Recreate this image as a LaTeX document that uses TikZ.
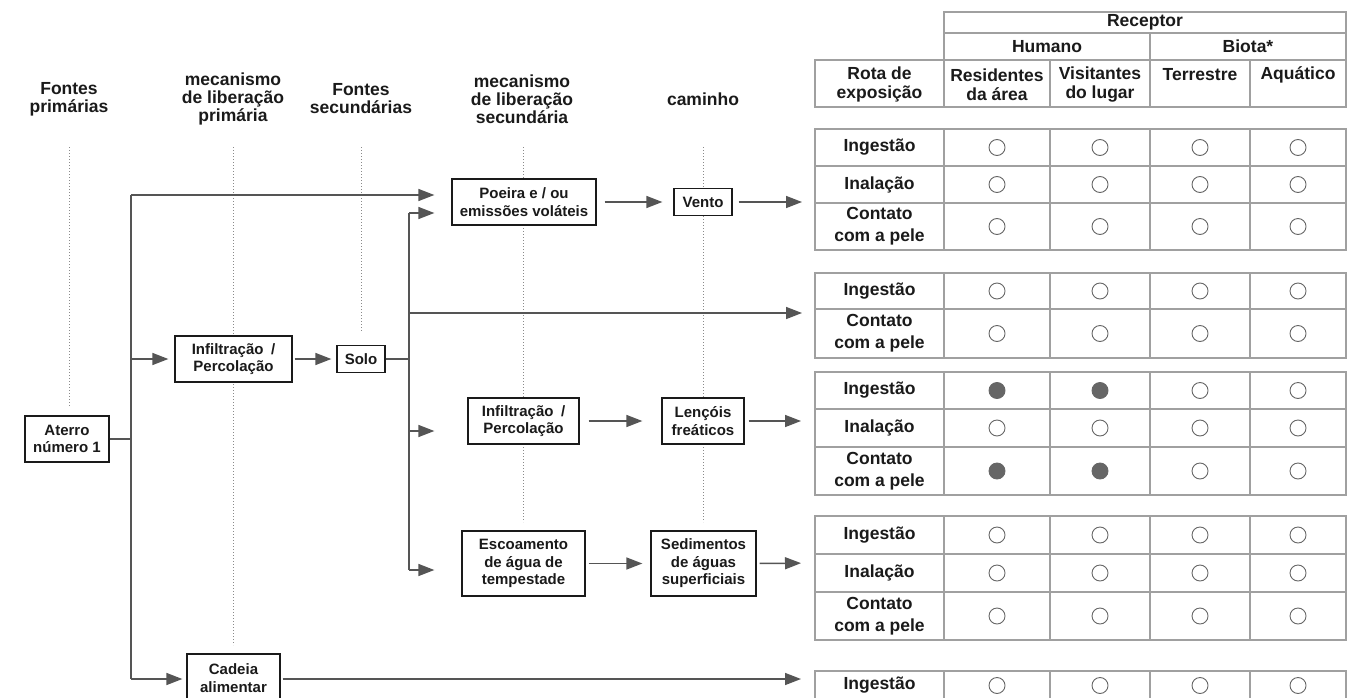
\documentclass[tikz,border=0pt]{standalone}
\usepackage{fontspec}
\setmainfont{Liberation Sans}
\usetikzlibrary{arrows.meta}

\definecolor{ink}{HTML}{1A1A1A}
\definecolor{arrowgray}{HTML}{555555}
\definecolor{gridgray}{HTML}{A0A0A0}
\definecolor{dotgray}{HTML}{8A8A8A}
\definecolor{markgray}{HTML}{666666}

\tikzset{
  flowbox/.style={draw=ink, line width=1.3pt, fill=white, align=center,
    inner sep=0pt, text=ink, font=\bfseries\fontsize{15}{17.5}\selectfont},
  conn/.style={draw=arrowgray, line width=1.5pt},
  arr/.style={conn, -{Triangle[length=16pt,width=12pt]}},
  guideline/.style={draw=dotgray, line width=0.9pt, dash pattern=on 1pt off 2pt},
  colhead/.style={align=center, text=ink, font=\bfseries\fontsize{17.5}{18}\selectfont},
  celltext/.style={align=center, text=ink, font=\bfseries\fontsize{17.5}{22}\selectfont},
  tableline/.style={draw=gridgray, line width=1.4pt},
  opencirc/.style={circle, draw=markgray, line width=0.9pt, minimum size=16pt, inner sep=0pt},
  fullcirc/.style={opencirc, fill=markgray},
}

% one row of the exposure table: name, top, bottom, label, four marker styles
\newcommand\exposurerow[8]{%
  \draw[tableline] (815,#2) rectangle (1346,#3);
  \foreach \xx in {944,1050,1150,1250} \draw[tableline] (\xx,#2) -- (\xx,#3);
  \node[celltext] (#1-l) at (879.5,{(#2+#3)/2}) {#4};
  \node[#5] (#1-a) at (997,{(#2+#3)/2}) {};
  \node[#6] (#1-b) at (1100,{(#2+#3)/2}) {};
  \node[#7] (#1-c) at (1200,{(#2+#3)/2}) {};
  \node[#8] (#1-d) at (1298,{(#2+#3)/2}) {};
}

\begin{document}
\begin{tikzpicture}[x=1pt,y=-1pt]
\useasboundingbox (0,0) rectangle (1359,698);
\clip (0,0) rectangle (1359,698);
\fill[white] (0,0) rectangle (1359,698);

% column headings of the flow part
\node[colhead] (hFP)  at (69,99)  {Fontes\\primárias};
\node[colhead] (hMP)  at (233,99) {mecanismo\\de liberação\\primária};
\node[colhead] (hFS)  at (361,99) {Fontes\\secundárias};
\node[colhead] (hMS)  at (522,99) {mecanismo\\de liberação\\secundária};
\node[colhead] (hCam) at (703,99) {caminho};

% dotted column guides
\draw[guideline] (69,147) -- (69,407);
\draw[guideline] (233,147) -- (233,645);
\draw[guideline] (361,147) -- (361,331);
\draw[guideline] (523,147) -- (523,522);
\draw[guideline] (703,147) -- (703,522);

% flow boxes
\node[flowbox, minimum width=84pt,  minimum height=46pt] (aterro)  at (67,439)    {Aterro\\número 1};
\node[flowbox, minimum width=117pt, minimum height=46pt] (infil1)  at (233.5,359) {Infiltração\enspace/\\Percolação};
\node[flowbox, minimum width=48pt,  minimum height=27pt] (solo)    at (361,359)   {Solo};
\node[flowbox, minimum width=144pt, minimum height=46pt] (poeira)  at (524,202)   {Poeira e / ou\\emissões voláteis};
\node[flowbox, minimum width=58pt,  minimum height=27pt] (vento)   at (703,202)   {Vento};
\node[flowbox, minimum width=111pt, minimum height=46pt] (infil2)  at (523.5,421) {Infiltração\enspace/\\Percolação};
\node[flowbox, minimum width=82pt,  minimum height=46pt] (lencois) at (703,421)   {Lençóis\\freáticos};
\node[flowbox, minimum width=123pt, minimum height=65pt] (escoa)   at (523.5,563.5) {Escoamento\\de água de\\tempestade};
\node[flowbox, minimum width=105pt, minimum height=65pt] (sedim)   at (703.5,563.5) {Sedimentos\\de águas\\superficiais};
\node[flowbox, minimum width=93pt,  minimum height=48pt] (cadeia)  at (233.5,678) {Cadeia\\alimentar};

% entry points of the exposure groups
\coordinate (g1) at (815,202);
\coordinate (g2) at (815,313);
\coordinate (g3) at (815,421);
\coordinate (g4) at (815,563);
\coordinate (g5) at (815,679);

% primary trunk
\coordinate (tTop) at (131,195);
\coordinate (tBot) at (131,679);
\draw[conn] (aterro.east) -- (aterro.east -| tTop);
\draw[conn] (tTop) -- (tBot);
\draw[arr, shorten >=17pt] (tTop) -- (poeira.west |- tTop);
\draw[arr, shorten >=6pt] (infil1.west -| tTop) -- (infil1.west);
\draw[arr, shorten >=4pt] (tBot) -- (cadeia.west |- tBot);
\draw[arr, shorten <=2pt, shorten >=5pt] (infil1.east) -- (solo.west);

% secondary trunk
\coordinate (sTop) at (409,213);
\coordinate (sMid) at (409,313);
\coordinate (sInf) at (409,431);
\coordinate (sBot) at (409,570);
\draw[conn] (solo.east) -- (solo.east -| sTop);
\draw[conn] (sTop) -- (sBot);
\draw[arr, shorten >=17pt] (sTop) -- (poeira.west |- sTop);
\draw[arr, shorten >=13pt] (sMid) -- (g2);
\draw[arr, shorten >=33pt] (sInf) -- (infil2.west |- sInf);
\draw[arr, shorten >=27pt] (sBot) -- (escoa.west |- sBot);

% pathways towards the receptors
\draw[arr, shorten <=8pt, shorten >=11pt] (poeira.east) -- (vento.west);
\draw[arr, shorten <=6pt, shorten >=13pt] (vento.east) -- (g1);
\draw[arr, shorten <=9pt, shorten >=19pt] (infil2.east) -- (lencois.west);
\draw[arr, shorten <=4pt, shorten >=14pt] (lencois.east) -- (g3);
\draw[arr, shorten <=3pt, shorten >=8pt] (escoa.east) -- (sedim.west);
\draw[arr, shorten <=3pt, shorten >=14pt] (sedim.east) -- (g4);
\draw[arr, shorten <=2pt, shorten >=14pt] (cadeia.east |- g5) -- (g5);

% receptor table heading
\draw[tableline] (944,12) rectangle (1346,60);
\draw[tableline] (944,33) -- (1346,33);
\draw[tableline] (815,60) rectangle (1346,107);
\draw[tableline] (944,60) -- (944,107);
\draw[tableline] (1050,60) -- (1050,107);
\draw[tableline] (1150,33) -- (1150,107);
\draw[tableline] (1250,60) -- (1250,107);
\node[celltext] (hRec) at (1145,22.5) {Receptor};
\node[celltext] (hHum) at (1047,46.5) {Humano};
\node[celltext] (hBio) at (1248,46.5) {Biota*};
\node[celltext, font=\bfseries\fontsize{17.5}{19.5}\selectfont] (hRota) at (879.5,84.5) {Rota de\\exposição};
\node[celltext, font=\bfseries\fontsize{17.5}{19.5}\selectfont] (hRes)  at (997,84.5)   {Residentes\\da área};
\node[celltext, font=\bfseries\fontsize{17.5}{19.5}\selectfont] (hVis)  at (1100,84.5)  {Visitantes\\do lugar};
\node[celltext] (hTer) at (1200,75) {Terrestre};
\node[celltext] (hAqu) at (1298,75) {Aquático};

% exposure groups
\exposurerow{a1}{129}{166}{Ingestão}{opencirc}{opencirc}{opencirc}{opencirc}
\exposurerow{a2}{166}{203}{Inalação}{opencirc}{opencirc}{opencirc}{opencirc}
\exposurerow{a3}{203}{250}{Contato\\com a pele}{opencirc}{opencirc}{opencirc}{opencirc}

\exposurerow{b1}{273}{309}{Ingestão}{opencirc}{opencirc}{opencirc}{opencirc}
\exposurerow{b2}{309}{358}{Contato\\com a pele}{opencirc}{opencirc}{opencirc}{opencirc}

\exposurerow{c1}{372}{409}{Ingestão}{fullcirc}{fullcirc}{opencirc}{opencirc}
\exposurerow{c2}{409}{447}{Inalação}{opencirc}{opencirc}{opencirc}{opencirc}
\exposurerow{c3}{447}{495}{Contato\\com a pele}{fullcirc}{fullcirc}{opencirc}{opencirc}

\exposurerow{d1}{516}{554}{Ingestão}{opencirc}{opencirc}{opencirc}{opencirc}
\exposurerow{d2}{554}{592}{Inalação}{opencirc}{opencirc}{opencirc}{opencirc}
\exposurerow{d3}{592}{640}{Contato\\com a pele}{opencirc}{opencirc}{opencirc}{opencirc}

\exposurerow{e1}{671}{700}{Ingestão}{opencirc}{opencirc}{opencirc}{opencirc}
\end{tikzpicture}
\end{document}
